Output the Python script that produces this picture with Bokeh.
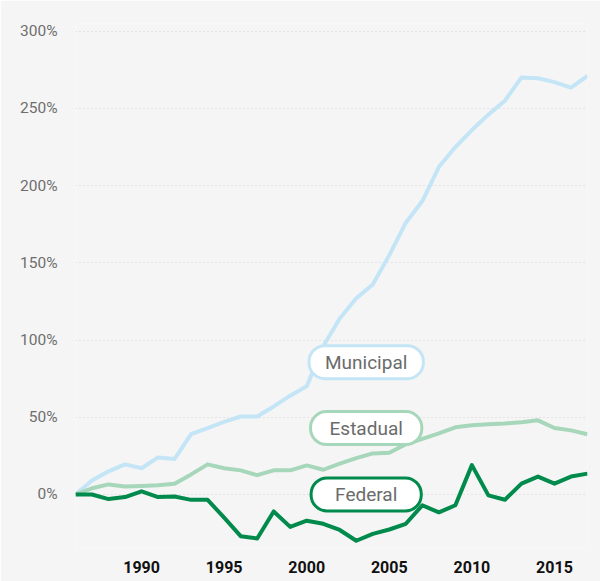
from bokeh.plotting import figure
from bokeh.models import Label, Range1d, FixedTicker, PrintfTickFormatter
from bokeh.embed import file_html
from bokeh.resources import INLINE

years = list(range(1986, 2018))
municipal = [0, 9, 15, 19.5, 17, 24, 23, 39, 43, 47, 50.5, 50.5, 57, 64, 70,
             96, 114, 127, 136, 155, 176, 190, 212, 225, 236, 246, 255, 270,
             269.5, 267, 263.5, 271]
estadual = [0, 4, 6.5, 5.2, 5.5, 6, 7, 13, 19.5, 17, 15.6, 12.5, 15.6, 15.6,
            18.8, 16, 20, 23.5, 26.6, 27, 32.5, 36, 39.6, 43.5, 44.8, 45.5,
            46, 46.8, 48, 43, 41.5, 39]
federal = [0, 0, -3, -1.7, 2, -1.7, -1.3, -3.5, -3.5, -15, -27, -28.5, -11,
           -21, -17, -19, -23, -30, -25.5, -22.7, -19, -7, -11.6, -7, 19,
           -0.6, -3.4, 7, 11.6, 7, 11.6, 13.5]

y_ticks = [0, 50, 100, 150, 200, 250, 300]
x_ticks = [1990, 1995, 2000, 2005, 2010, 2015]

series = [
    ("Municipal", municipal, "#c4e5f6", 85.7),
    ("Estadual", estadual, "#a7d7ba", 43.0),
    ("Federal", federal, "#008a4b", 0.0),
]
label_x = 2003.6
label_pad = {"Municipal": 16, "Estadual": 19, "Federal": 24}

BG = "#f5f5f5"

p = figure(width=600, height=581, output_backend="svg", toolbar_location=None,
           x_range=Range1d(1986, 2017), y_range=Range1d(-35, 305),
           min_border_left=75, min_border_right=13, min_border_top=23,
           min_border_bottom=33)
p.background_fill_color = BG
p.border_fill_color = BG
p.outline_line_color = None

p.xgrid.grid_line_color = None
p.ygrid.grid_line_color = "#d0d0d0"
p.ygrid.grid_line_dash = "1 3"
p.ygrid.grid_line_width = 1

p.yaxis.ticker = FixedTicker(ticks=y_ticks)
p.yaxis.formatter = PrintfTickFormatter(format="%d%%")
p.xaxis.ticker = FixedTicker(ticks=x_ticks)
for ax in (p.xaxis, p.yaxis):
    ax.axis_line_color = None
    ax.major_tick_line_color = None
    ax.minor_tick_line_color = None
p.yaxis.major_label_text_color = "#6e6e6e"
p.yaxis.major_label_text_font = "Roboto"
p.yaxis.major_label_text_font_size = "15.5px"
p.yaxis.major_label_standoff = 12
p.xaxis.major_label_text_color = "#111111"
p.xaxis.major_label_text_font = "Roboto"
p.xaxis.major_label_text_font_style = "bold"
p.xaxis.major_label_text_font_size = "16px"
p.xaxis.major_label_standoff = 6

for name, vals, color, ly in series:
    p.line(years, vals, line_color=color, line_width=4, line_join="round")

for name, vals, color, ly in series:
    pad = label_pad[name]
    lab = Label(x=label_x, y=ly, text=name, text_align="center",
                text_baseline="middle", text_font="Roboto",
                text_font_size="19px", text_color="#6b6b6b",
                background_fill_color="white", border_line_color=color,
                border_line_width=3, border_radius=16,
                padding=dict(left=pad, right=pad, top=5, bottom=5))
    p.add_layout(lab)

open("out.html", "w").write(file_html(p, INLINE))
